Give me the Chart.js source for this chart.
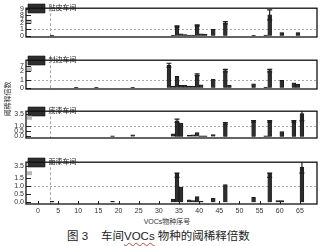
<!DOCTYPE html>
<html>
<head>
<meta charset="utf-8">
<script src="https://cdn.jsdelivr.net/npm/chart.js@4.4.1/dist/chart.umd.min.js"></script>
<style>
  html, body { margin: 0; padding: 0; background: #fff; }
  #wrap { position: relative; width: 329px; height: 246px; overflow: hidden;
          font-family: "Liberation Sans", "Noto Sans CJK SC", sans-serif; color: #333; }
  .panel { position: absolute; left: 0; width: 329px; }
  .txt { position: absolute; white-space: nowrap; }
  #ytitle { left: -10px; top: 95px; width: 36px; text-align: center; font-size: 7px; line-height: 8px;
            transform: rotate(-90deg); }
  #xtitle { left: 127px; top: 218px; width: 80px; text-align: center; font-size: 7px; line-height: 8px; }
  .cap { top: 230px; font-size: 11.5px; line-height: 13px; color: #222; }
  .sq { text-decoration: underline wavy #d33; text-decoration-thickness: 1px; text-underline-offset: 2px; }
</style>
</head>
<body>
<div id="wrap">
  <div class="panel" style="top:2px;height:49px"><canvas id="c1"></canvas></div>
  <div class="panel" style="top:54px;height:49px"><canvas id="c2"></canvas></div>
  <div class="panel" style="top:105px;height:47px"><canvas id="c3"></canvas></div>
  <div class="panel" style="top:156px;height:61px"><canvas id="c4"></canvas></div>
  <div class="txt" id="ytitle">阈稀释倍数</div>
  <div class="txt" id="xtitle">VOCs物种序号</div>
  <div class="txt cap" style="left:67px">图 3</div>
  <div class="txt cap" style="left:101px">车间<span class="sq">VOCs</span> 物种的阈稀释倍数</div>
</div>
<script>
// VOCs species numbers that show a bar in at least one workshop
const species = [3, 9, 14, 18, 23, 32, 33, 34, 35, 36, 37, 38, 39, 40, 41, 43, 46, 47, 53, 56, 57, 59, 60, 63, 64, 65];

// threshold dilution factor per species (null = no bar)
const tiepi    = [0.05, null, null, null, null, null, 0.05, 1.45, 0.3, 0.2, 0.1, 0.1, 1.6, 0.3, 0.25, 1.0, 2.0, null, 0.05, 0.1, 8.0, null, 0.5, null, 0.5, null];
const tiepiErr = [0, 0, 0, 0, 0, 0, 0, 0.1, 0, 0, 0, 0, 0.1, 0, 0, 0, 0.15, 0, 0, 0, 0.9, 0, 0, 0, 0, 0];

const fengbian    = [null, 0.05, 0.05, null, 0.05, 7.1, 0.2, 1.4, 0.3, 0.3, 0.2, 0.2, 1.6, 0.35, null, 1.05, 2.1, 0.3, 0.5, 0.1, 2.1, null, 0.9, 0.6, 0.45, null];
const fengbianErr = [0, 0, 0, 0, 0, 0.35, 0, 0, 0, 0, 0, 0, 0.1, 0, 0, 0, 0.15, 0, 0, 0, 0.15, 0, 0, 0, 0, 0];

const diqi    = [null, null, null, 0.05, 0.15, null, 0.25, 1.45, 1.25, null, 0.1, 0.15, 0.35, 0.05, 0.05, 0.17, 1.2, null, 1.4, 0.05, 1.4, null, 0.45, 1.4, null, 3.55];
const diqiErr = [0, 0, 0, 0, 0, 0, 0, 0.15, 0, 0, 0, 0, 0, 0, 0, 0, 0.08, 0, 0.08, 0, 0.08, 0, 0, 0.08, 0, 2.1];

const mianqi    = [0.05, null, null, 0.05, null, null, 0.2, 1.7, 0.95, null, 0.15, 0.1, 0.35, 0.05, null, 0.25, 1.1, null, 0.3, null, 1.7, 0.1, 0.1, null, null, 3.4];
const mianqiErr = [0, 0, 0, 0, 0, 0, 0, 0.15, 0, 0, 0, 0, 0, 0, 0, 0, 0, 0, 0, 0, 0.15, 0, 0, 0, 0, 1.7];

const xTicks = [0, 5, 10, 15, 20, 25, 30, 35, 40, 45, 50, 55, 60, 65];
const yTicksTiepi = [0, 1, 2, 7, 8, 9];
const yTicksFengbian = [0, 1, 2, 7];
const yTicksDiqi = [0, 0.5, 1, 3.5];
const yTicksMianqi = [0, 0.5, 1, 1.5, 3.5];

const threshold = 1;  // dotted line: dilution factor 1
const markX = 3;      // dashed vertical guide

Chart.defaults.font.family = '"Liberation Sans", "Noto Sans CJK SC", sans-serif';
Chart.defaults.color = '#333';

// linear axis with a gap between lowMax and upMin (broken y axis)
class BrokenScale extends Chart.LinearScale {
    buildTicks() {
        return this.options.brk.tickValues.map(v => ({ value: v }));
    }
    getPixelForValue(value) {
        if (value === null || value === undefined) return NaN;
        const b = this.options.brk;
        let d;
        if (value <= b.lowMax) d = (value - this.min) / (b.lowMax - this.min) * b.d1;
        else if (value >= b.upMin) d = b.d2 + (value - b.upMin) / (this.max - b.upMin) * (1 - b.d2);
        else d = (b.d1 + b.d2) / 2;
        return this.getPixelForDecimal(d);
    }
    getValueForPixel(pixel) {
        const b = this.options.brk;
        const d = this.getDecimalForPixel(pixel);
        if (d <= b.d1) return this.min + d / b.d1 * (b.lowMax - this.min);
        if (d >= b.d2) return b.upMin + (d - b.d2) / (1 - b.d2) * (this.max - b.upMin);
        return (b.lowMax + b.upMin) / 2;
    }
}
BrokenScale.id = 'broken';
BrokenScale.defaults = Chart.LinearScale.defaults;
Chart.register(BrokenScale);

// each species sits in the middle of its unit slot on the x axis
const slot = s => s + 0.5;

function decor(vals, errs, brk, showX) {
    return {
        id: 'decor',
        beforeDatasetsDraw(chart) {
            const { ctx, chartArea: a, scales: { x, y } } = chart;
            ctx.save();
            ctx.strokeStyle = '#a8a8a8';
            ctx.lineWidth = 1;
            ctx.setLineDash([2, 2]);
            const py = Math.round(y.getPixelForValue(threshold)) + 0.5;
            ctx.beginPath(); ctx.moveTo(a.left, py); ctx.lineTo(a.right, py); ctx.stroke();
            ctx.setLineDash([3, 2]);
            const px = Math.round(x.getPixelForValue(markX)) + 0.5;
            ctx.beginPath(); ctx.moveTo(px, a.top); ctx.lineTo(px, a.bottom); ctx.stroke();
            ctx.restore();
        },
        afterDatasetsDraw(chart) {
            const { ctx, chartArea: a, scales: { x, y } } = chart;
            ctx.save();
            ctx.beginPath(); ctx.rect(a.left, a.top, a.width, a.height); ctx.clip();
            ctx.strokeStyle = '#1e1e1e';
            ctx.lineWidth = 1.2;
            species.forEach((s, i) => {
                if (vals[i] == null || !errs[i]) return;
                const cx = x.getPixelForValue(slot(s));
                const hi = y.getPixelForValue(vals[i] + errs[i]);
                const lo = y.getPixelForValue(vals[i] - errs[i]);
                ctx.beginPath();
                ctx.moveTo(cx, hi); ctx.lineTo(cx, lo);
                ctx.moveTo(cx - 2.5, hi); ctx.lineTo(cx + 2.5, hi);
                ctx.moveTo(cx - 2.5, lo); ctx.lineTo(cx + 2.5, lo);
                ctx.stroke();
            });
            ctx.restore();
        },
        afterDraw(chart) {
            const { ctx, chartArea: a, scales: { x, y } } = chart;
            ctx.save();
            // break marker on the y axis
            const pb = y.getPixelForDecimal((brk.d1 + brk.d2) / 2);
            ctx.fillStyle = '#b8b8b8';
            ctx.fillRect(a.left + 1, pb - 2, 5, 4);
            // inward tick marks
            ctx.strokeStyle = '#222';
            ctx.lineWidth = 1;
            y.ticks.forEach(t => {
                const p = Math.round(y.getPixelForValue(t.value)) + 0.5;
                ctx.beginPath(); ctx.moveTo(a.left, p); ctx.lineTo(a.left + 5, p); ctx.stroke();
            });
            if (showX) {
                x.ticks.forEach(t => {
                    const p = Math.round(x.getPixelForValue(t.value)) + 0.5;
                    ctx.beginPath(); ctx.moveTo(p, a.bottom); ctx.lineTo(p, a.bottom - 3); ctx.stroke();
                });
            }
            // frame
            ctx.strokeStyle = '#111';
            ctx.lineWidth = 1.3;
            ctx.strokeRect(a.left, a.top, a.width, a.height);
            ctx.restore();
        }
    };
}

function makePanel(canvasId, label, vals, errs, yTicks, brk, decimals, showX) {
    const points = [];
    species.forEach((s, i) => {
        if (vals[i] != null) points.push({ x: slot(s), y: vals[i] });
    });
    brk.tickValues = yTicks;
    new Chart(document.getElementById(canvasId).getContext('2d'), {
        type: 'bar',
        data: {
            datasets: [{
                label: label,
                data: points,
                backgroundColor: '#2e2e2e',
                borderColor: '#111',
                borderWidth: 0.6,
                barThickness: 3.8
            }]
        },
        options: {
            responsive: true,
            maintainAspectRatio: false,
            animation: false,
            layout: { padding: { top: 1, bottom: showX ? 0 : 1, left: 0, right: 12 } },
            scales: {
                x: {
                    type: 'linear',
                    min: -0.39,
                    max: 66.66,
                    display: showX,
                    grid: { display: false, drawTicks: false },
                    border: { display: false },
                    ticks: {
                        font: { size: 7 }, color: '#333', padding: 3, maxRotation: 0, autoSkip: false,
                        callback: v => String(v)
                    },
                    afterBuildTicks: s => { s.ticks = xTicks.map(v => ({ value: v })); },
                    afterFit: s => { s.height = 13; }
                },
                y: {
                    type: 'broken',
                    min: brk.min,
                    max: brk.max,
                    brk: brk,
                    grid: { display: false, drawTicks: false },
                    border: { display: false },
                    ticks: {
                        autoSkip: false,
                        font: { size: 7 },
                        color: '#333',
                        padding: 2,
                        callback: v => decimals ? v.toFixed(1) : String(v)
                    },
                    afterFit: s => { s.width = 26; }
                }
            },
            plugins: {
                legend: {
                    position: 'chartArea',
                    align: 'start',
                    labels: { boxWidth: 17, boxHeight: 9, padding: 2, color: '#222', font: { size: 7 } }
                },
                tooltip: { enabled: false }
            }
        },
        plugins: [decor(vals, errs, brk, showX)]
    });
}

makePanel('c1', '贴皮车间', tiepi, tiepiErr, yTicksTiepi,
    { min: -0.19, max: 9.22, lowMax: 2.1, upMin: 6.9, d1: 0.512, d2: 0.555 }, false, false);
makePanel('c2', '封边车间', fengbian, fengbianErr, yTicksFengbian,
    { min: -0.15, max: 8.0, lowMax: 2.1, upMin: 6.6, d1: 0.636, d2: 0.732 }, false, false);
makePanel('c3', '底漆车间', diqi, diqiErr, yTicksDiqi,
    { min: -0.14, max: 3.78, lowMax: 1.6, upMin: 3.3, d1: 0.702, d2: 0.809 }, true, false);
makePanel('c4', '面漆车间', mianqi, mianqiErr, yTicksMianqi,
    { min: -0.11, max: 3.72, lowMax: 1.65, upMin: 3.2, d1: 0.674, d2: 0.8 }, true, true);
</script>
</body>
</html>
